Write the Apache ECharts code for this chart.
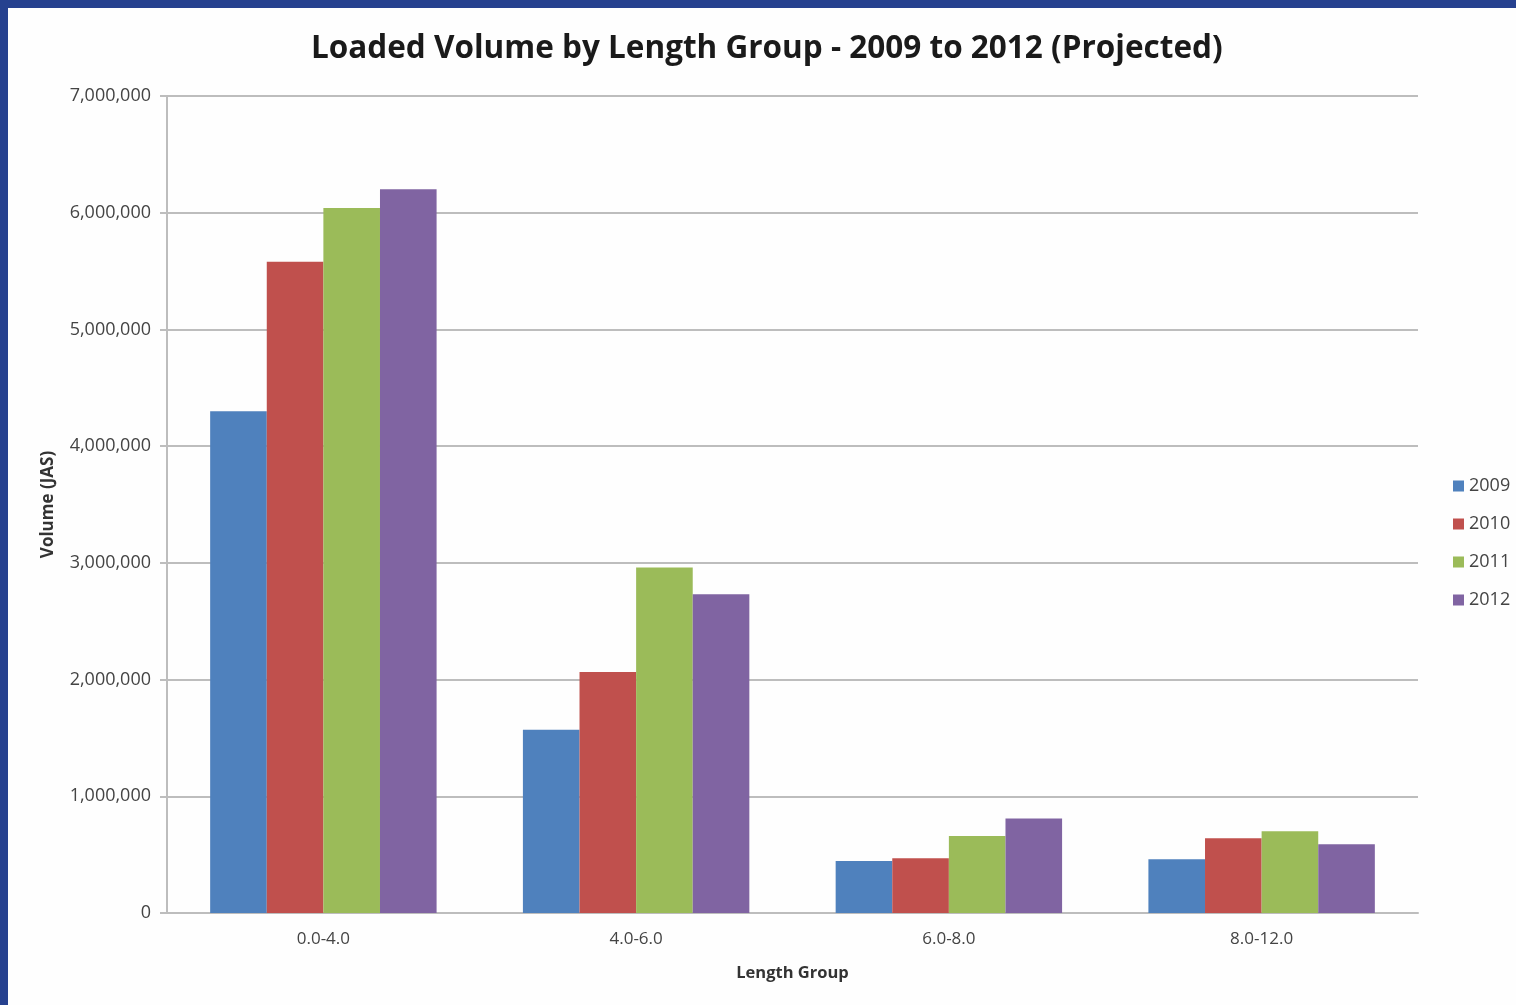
<!DOCTYPE html>
<html>
<head>
<meta charset="utf-8">
<script src="https://cdn.jsdelivr.net/npm/echarts@6/dist/echarts.min.js"></script>
<style>
  html, body { margin:0; padding:0; width:1516px; height:1005px; background:#26418f; overflow:hidden; }
  #chart { position:absolute; left:8px; top:8px; width:1508px; height:997px; background:#fefefe; }
</style>
</head>
<body>
<div id="chart"></div>
<script>
const categories = ['0.0-4.0', '4.0-6.0', '6.0-8.0', '8.0-12.0'];
const years = ['2009', '2010', '2011', '2012'];
const v2009 = [4300000, 1570000, 445000, 460000];
const v2010 = [5580000, 2065000, 470000, 640000];
const v2011 = [6040000, 2960000, 660000, 700000];
const v2012 = [6200000, 2730000, 810000, 590000];
const yTicks = [0, 1000000, 2000000, 3000000, 4000000, 5000000, 6000000, 7000000];
const colors = ['#4F81BD', '#C0504D', '#9BBB59', '#8064A2'];
const seriesValues = [v2009, v2010, v2011, v2012];

const chart = echarts.init(document.getElementById('chart'));
const font = "'Open Sans', 'Noto Sans', sans-serif";
chart.setOption({
  animation: false,
  textStyle: { fontFamily: font },
  title: {
    text: 'Loaded Volume by Length Group - 2009 to 2012 (Projected)',
    left: 298, top: 20,
    textStyle: { fontFamily: font, fontSize: 31.5, fontWeight: 'bold', color: '#1a1a1a' }
  },
  legend: {
    orient: 'vertical', left: 1440, top: 464,
    itemWidth: 11, itemHeight: 11, itemGap: 20, icon: 'rect',
    textStyle: { fontFamily: font, fontSize: 18, color: '#444' },
    data: years
  },
  grid: { left: 159, right: 98, top: 88, bottom: 92 },
  xAxis: {
    type: 'category', data: categories,
    name: 'Length Group', nameLocation: 'middle', nameGap: 52,
    nameTextStyle: { fontFamily: font, fontSize: 16.5, fontWeight: 'bold', color: '#333' },
    axisLine: { lineStyle: { color: '#bdbdbd', width: 2 } },
    axisTick: { show: false },
    axisLabel: { fontFamily: font, fontSize: 17, color: '#444', margin: 18 }
  },
  yAxis: {
    type: 'value', min: 0, max: 7000000, interval: 1000000,
    name: 'Volume (JAS)', nameLocation: 'middle', nameGap: 110, nameRotate: 90,
    nameTextStyle: { fontFamily: font, fontSize: 17, fontWeight: 'bold', color: '#333' },
    axisLine: { show: true, lineStyle: { color: '#bdbdbd', width: 2 } },
    axisTick: { show: true, length: 7, lineStyle: { color: '#bdbdbd', width: 2 } },
    splitLine: { lineStyle: { color: '#bdbdbd', width: 2 } },
    axisLabel: {
      fontFamily: font, fontSize: 18, color: '#444', margin: 16,
      formatter: v => yTicks.includes(v) ? v.toLocaleString('en-US') : ''
    }
  },
  series: years.map((y, i) => ({
    name: y, type: 'bar', data: seriesValues[i],
    itemStyle: { color: colors[i] },
    barGap: '0%', barCategoryGap: '27.6%'
  }))
});
</script>
</body>
</html>
